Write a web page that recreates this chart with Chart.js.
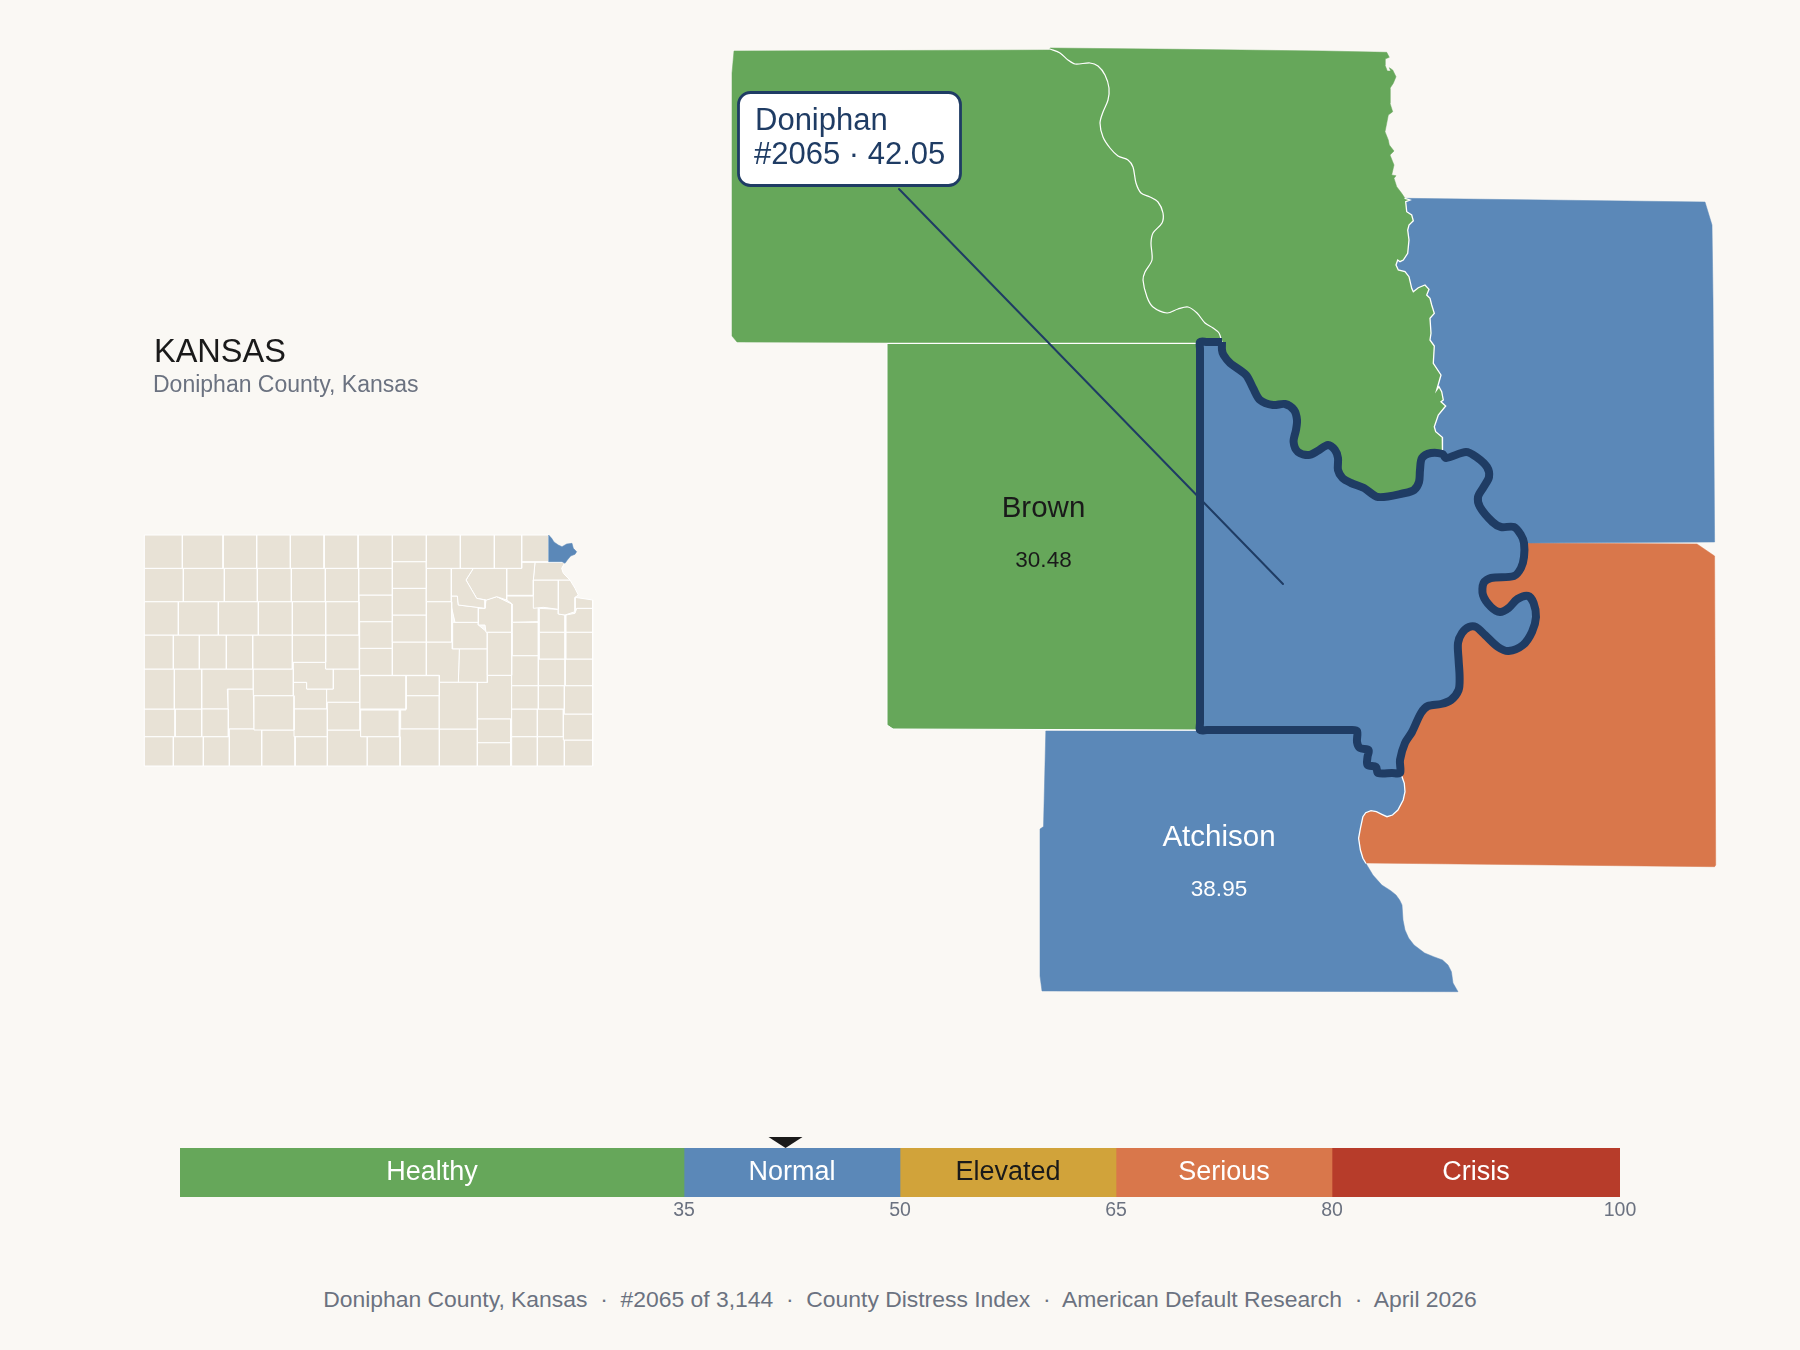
<!DOCTYPE html>
<html>
<head>
<meta charset="utf-8">
<title>Doniphan County, Kansas</title>
<script src="https://cdn.jsdelivr.net/npm/chart.js@4/dist/chart.umd.js"></script>
<style>
    html, body { margin: 0; padding: 0; background: #faf8f4; }
    body { position: relative; width: 1800px; height: 1350px; overflow: hidden; font-family: "Liberation Sans", sans-serif; }
    canvas { position: absolute; }
    .texto { position: absolute; line-height: 1; white-space: pre; }
    #titulo { left: 154px; top: 335px; font-size: 32.5px; color: #1a1a1a; }
    #subtitulo { left: 153px; top: 372.5px; font-size: 23px; color: #6b7280; }
    #rodape { left: 0; width: 1800px; top: 1287.5px; text-align: center; font-size: 22.9px; color: #6b7280; }
</style>
</head>
<body>
<canvas id="mapa" width="1800" height="1100" style="left:0;top:0"></canvas>
<canvas id="kansas" width="480" height="260" style="left:130px;top:520px"></canvas>
<canvas id="escala" width="1800" height="130" style="left:0;top:1130px"></canvas>
<div class="texto" id="titulo">KANSAS</div>
<div class="texto" id="subtitulo">Doniphan County, Kansas</div>
<div class="texto" id="rodape">Doniphan County, Kansas  ·  #2065 of 3,144  ·  County Distress Index  ·  American Default Research  ·  April 2026</div>

<script>
// index bands
const bandLabels = ['Healthy', 'Normal', 'Elevated', 'Serious', 'Crisis'];
const bandWidths = [35, 15, 15, 15, 20];
const bandColors = ['#66a75a', '#5b88b8', '#d1a33a', '#d9774b', '#b73c2a'];
const bandText = ['#ffffff', '#ffffff', '#1a1a1a', '#ffffff', '#ffffff'];
const bandTicks = [35, 50, 65, 80, 100];
const score = 42.05;

// county labels on the map
const labelNames = ['Brown', 'Atchison'];
const labelValues = ['30.48', '38.95'];
const labelColors = ['#1a1a1a', '#ffffff'];
const labelAnchors = [[1043.5, 516.5], [1219, 846]];
const calloutLines = ['Doniphan', '#2065 · 42.05'];

// county outlines, map units
const riverWest = [[1050,49],[1060,53],[1068,60],[1075,64],[1090,63],[1098,66],[1105,75],[1109,88],[1108,100],[1103,112],[1100,123],[1103,137],[1110,148],[1118,156],[1128,160],[1133,167],[1136,183],[1141,193],[1150,197],[1158,202],[1163,213],[1162,223],[1153,233],[1151,243],[1152,260],[1145,272],[1143,280],[1147,297],[1153,307],[1167,313],[1178,309],[1188,307],[1197,313],[1205,323],[1213,328],[1219,333],[1222,342]];
const riverEastTop = [[1386.7,52.3],[1389.3,57.3],[1385,59],[1385,65],[1387.3,71],[1390.7,71],[1389.3,67.7],[1392.7,70],[1396,76.7],[1393.3,83.3],[1390,88.3],[1390,103.3],[1392.7,111.7],[1388.3,115],[1386.7,123.3],[1385,131.7],[1388.3,140],[1389.3,145],[1394,151],[1390,155],[1394,165],[1391.7,175],[1396,175.7],[1394,178.3],[1396.7,186.7],[1401.7,193.3]];
const stateLine = [[1405,198.3],[1410,200],[1405.7,201.7],[1406.7,211.7],[1411.7,215],[1413.3,220.7],[1409,225],[1407.7,230],[1409,240],[1407.7,253.3],[1403.3,260],[1400,261.7],[1397.7,260],[1396,265],[1398.3,270],[1405,271.7],[1409,276.7],[1411.7,288.3],[1413.3,291.7],[1418.3,287.7],[1425,285],[1429,289.3],[1426.7,295],[1430,298.3],[1431.7,305],[1434.3,313.3],[1430,318.3],[1431,333.3],[1430,340],[1434.3,346],[1433.3,363.3],[1441,375],[1436.7,390],[1439,386.7],[1441.7,391.7],[1443.3,400],[1441,401.7],[1445.7,406],[1438.3,415],[1434.3,426.7],[1435.7,431.7],[1442.3,437.3],[1442.5,454]];
const doniphanNorth = [[1222,342],[1222,350],[1223.6,355],[1230,363],[1246,375],[1253,388],[1260,400],[1273,405],[1285,404],[1294,410],[1297,420],[1296,430],[1293.6,442],[1298,452],[1308.6,455],[1317.5,451],[1328,445],[1335,450],[1338,458],[1338,470],[1342.5,478],[1351,483],[1364,488],[1378,497],[1405,493],[1414,490],[1419,482],[1420,470],[1422,458],[1431,453],[1442.5,454]];
const doniphanEastTop = [[1446,458],[1466,452],[1476.4,457],[1487,467],[1489,477],[1483.6,487],[1478,497],[1480,507],[1492.5,522],[1501,527],[1514,527],[1521,535],[1524,543]];
const doniphanEastLow = [[1524,557],[1521,568],[1514,576],[1491,578],[1483.6,583],[1483,595],[1491,607],[1500,612],[1508.6,608],[1517.5,599],[1528,596],[1533.6,603],[1536,617],[1532,632],[1523,645],[1508.6,651],[1498,647],[1485,635],[1476,627],[1469,627],[1462,633],[1458,643],[1458.6,660],[1459.6,677],[1458.6,690],[1451,700],[1441,704],[1428,706],[1421,713],[1412,732],[1405,743],[1400,760],[1400,773]];
const doniphanSouth = [[1392,773],[1378,773],[1376,767],[1367.5,765],[1367.5,757],[1368.6,750],[1360,748],[1357,742],[1357,731],[1350,730],[1280,730],[1207,730],[1200,730]];
const doniphanWest = [[1200,723],[1200,530],[1200,349],[1200,342],[1207,342],[1216,342]];
const riverKaw = [[1401.4,775],[1404.3,783.3],[1405,791.7],[1403.2,800],[1397.9,810],[1392.5,815],[1387,816.7],[1381.8,814.3],[1376.4,811.7],[1371,810.7],[1365.7,812.7],[1362.9,816.7],[1360.4,828.3],[1358.6,838.3],[1360.4,850],[1362.9,858.3],[1365.7,863]];
const atchisonCoast = [[1372.9,875],[1381.8,885],[1390.7,890.7],[1396,895],[1399.6,900],[1402,905],[1403,920],[1405,930],[1408.6,938],[1414,945],[1424.6,953],[1433.6,956.7],[1442.5,960],[1448,965],[1451.4,971.7],[1453,983],[1458,991.7]];

const topWest = [[734,51],[1050,50]].concat(riverWest, [[1222,342.5],[887,342.5],[737,342],[732,336],[732,73]]);
const topEast = [[1050,48],[1180,49.3],[1323,51]].concat(riverEastTop, stateLine, doniphanNorth.slice().reverse(), riverWest.slice().reverse());
const brown = [[887,343.5],[1200,343.5],[1200,730],[893,729],[887,725]];
const holt = stateLine.concat(doniphanEastTop, [[1528,543],[1714.6,542],[1713,300],[1712,225],[1705,202]]);
const platte = [[1528,543],[1697,544],[1714.6,556],[1715.7,865],[1714.6,866.7],[1365.7,863]].concat(riverKaw.slice().reverse(), doniphanEastLow.slice().reverse());
const atchison = [[1045.8,731],[1200,731]].concat(doniphanSouth.slice().reverse(), riverKaw, atchisonCoast, [[1042,991],[1040,976],[1040,829],[1043.5,826.6]]);
const doniphan = doniphanNorth.concat(doniphanEastTop, doniphanEastLow, doniphanSouth, doniphanWest);
const leaderLine = [[899,189],[1283,584]];

// inset state map, rectangles x0 y0 x1 y1
const kansasRects = [
    [43,45,157,145],[157,45,279,145],[279,45,380,145],[380,45,481,145],[481,45,582,145],[582,45,684,145],[684,45,787,145],[787,45,889,125],[889,45,991,145],[991,45,1093,145],[1093,45,1175,145],[1175,45,1256,125],
    [43,145,160,245],[160,145,283,245],[283,145,382,245],[382,145,484,245],[484,145,586,245],[586,145,686,245],[686,145,787,225],[787,125,889,205],[889,145,964,245],
    [43,245,145,345],[145,245,265,345],[265,245,385,345],[385,245,487,345],[487,245,587,345],[587,245,687,345],[687,225,787,305],[787,205,889,285],[787,285,889,366],[889,245,965,366],
    [43,345,130,447],[130,345,208,447],[208,345,289,447],[289,345,368,447],[368,345,487,447],[487,345,587,427],[587,345,688,447],[689,305,787,385],[689,385,787,466],[787,366,889,466],[1072,337,1145,466],[1147,307,1225,407],[1228,337,1305,417],[1308,337,1388,417],
    [43,447,133,567],[133,447,215,567],[370,447,490,527],[690,467,828,567],[828,467,928,527],[928,487,1042,627],[1145,407,1225,497],[1225,417,1305,497],[1305,417,1388,497],
    [372,527,492,630],[492,567,592,650],[592,547,690,630],[692,570,808,650],[1145,497,1225,567],[1225,497,1303,567],[1303,497,1388,582],
    [43,567,135,650],[135,567,215,650],[215,567,295,650],[43,650,130,738],[130,650,220,738],[220,650,298,738],[298,627,395,738],[395,630,495,738],[495,650,592,738],[712,650,810,738],[810,627,928,738],[928,627,1042,738],[1042,597,1142,668],[1042,668,1142,738],[1145,567,1222,650],[1222,567,1300,650],[1300,582,1388,660],[1145,650,1222,738],[1222,650,1303,738],[1303,660,1388,738]
];
const kansasPolys = [
    [[964,145],[1030,145],[1008,180],[1040,235],[1065,240],[1065,265],[985,255],[982,228],[964,228]],
    [[1030,145],[1130,145],[1130,240],[1100,230],[1070,240],[1040,235],[1008,180]],
    [[1130,145],[1175,145],[1175,127],[1215,127],[1210,180],[1210,226],[1130,226]],
    [[1215,127],[1305,127],[1295,145],[1300,160],[1320,180],[1210,180]],
    [[1210,180],[1285,180],[1285,268],[1240,262],[1210,265]],
    [[1285,180],[1320,180],[1335,205],[1345,225],[1335,232],[1335,275],[1305,285],[1285,282]],
    [[1335,232],[1388,240],[1388,265],[1340,265],[1335,275]],
    [[962,228],[982,228],[985,255],[1045,262],[1045,307],[975,307],[962,250]],
    [[1045,265],[1065,265],[1068,240],[1100,230],[1145,252],[1145,337],[1068,337],[1065,315],[1045,315]],
    [[1130,228],[1225,228],[1225,305],[1147,307],[1147,252],[1130,240]],
    [[1228,265],[1285,268],[1285,282],[1305,285],[1305,337],[1228,337]],
    [[1340,265],[1388,265],[1388,337],[1308,337],[1308,285],[1335,280]],
    [[889,366],[967,366],[967,387],[988,387],[985,487],[928,487],[928,466],[889,466]],
    [[988,387],[1072,387],[1072,487],[985,487]],
    [[968,307],[1045,307],[1045,315],[1072,337],[1072,387],[968,387]],
    [[215,447],[370,447],[370,507],[292,507],[294,567],[215,567]],
    [[490,427],[587,427],[587,447],[610,447],[610,507],[530,507],[530,487],[490,487]],
    [[610,447],[689,447],[689,547],[590,547],[590,507],[610,507]],
    [[828,527],[928,527],[928,627],[812,627],[812,570],[828,570]],
    [[1042,487],[1072,487],[1072,466],[1145,466],[1145,597],[1042,597]],
    [[294,507],[370,507],[372,627],[296,627]],
    [[490,487],[530,487],[530,507],[590,507],[590,567],[490,567]],
    [[592,630],[692,630],[692,650],[712,650],[712,738],[592,738]]
];
const kansasDoniphan = [[1256,45],[1265,55],[1272,66],[1285,75],[1296,80],[1310,72],[1326,70],[1330,85],[1340,95],[1335,103],[1322,108],[1312,120],[1305,130],[1296,125],[1256,125]];

Chart.defaults.font.family = '"Liberation Sans", sans-serif';
Chart.defaults.animation = false;
Chart.defaults.responsive = false;
Chart.defaults.plugins.legend.display = false;
Chart.defaults.plugins.tooltip.enabled = false;

function shape(points, fillColor, lineColor, lineWidth, tension)
{
    let closed = points.concat([points[0]]);
    return {
        data: closed.map(p => ({ x: p[0], y: p[1] })),
        showLine: true,
        fill: fillColor ? 'shape' : false,
        backgroundColor: fillColor || 'transparent',
        borderColor: lineColor,
        borderWidth: lineWidth,
        borderJoinStyle: 'round',
        pointRadius: 0,
        tension: tension || 0
    };
}

function line(points, lineColor, lineWidth, tension)
{
    return {
        data: points.map(p => ({ x: p[0], y: p[1] })),
        showLine: true,
        fill: false,
        borderColor: lineColor,
        borderWidth: lineWidth,
        borderCapStyle: 'round',
        pointRadius: 0,
        tension: tension || 0
    };
}

function hiddenScales(xMax, yMax)
{
    return {
        x: { type: 'linear', display: false, min: 0, max: xMax },
        y: { type: 'linear', display: false, min: 0, max: yMax, reverse: true }
    };
}

// county names, values and the callout box
const mapText = {
    id: 'mapText',
    afterDatasetsDraw(chart) {
        let ctx = chart.ctx, sx = chart.scales.x, sy = chart.scales.y;
        ctx.save();
        ctx.textAlign = 'center';
        labelNames.forEach((name, i) => {
            let px = sx.getPixelForValue(labelAnchors[i][0]);
            let py = sy.getPixelForValue(labelAnchors[i][1]);
            ctx.fillStyle = labelColors[i];
            ctx.font = '29.5px "Liberation Sans"';
            ctx.fillText(name, px, py);
            ctx.font = '22.5px "Liberation Sans"';
            ctx.fillText(labelValues[i], px, py + 50);
        });

        ctx.beginPath();
        ctx.roundRect(738.5, 92.5, 222, 93, 12);
        ctx.fillStyle = '#ffffff';
        ctx.fill();
        ctx.strokeStyle = '#1f3c64';
        ctx.lineWidth = 2.8;
        ctx.stroke();
        ctx.fillStyle = '#1f3c64';
        ctx.textAlign = 'left';
        ctx.font = '31px "Liberation Sans"';
        ctx.fillText(calloutLines[0], 755, 130);
        ctx.fillText(calloutLines[1], 754, 164);
        ctx.restore();
    }
};

let mapDatasets = [
    line(leaderLine, '#1f3c64', 2),
    shape(doniphan, bandColors[1], '#1f3c64', 8, 0.3),
    line(riverWest, '#ffffff', 1.2, 0.3),
    line(stateLine, '#ffffff', 1.3),
    line(riverKaw, '#ffffff', 1.3),
    shape(brown, bandColors[0], '#ffffff', 1),
    shape(topEast, bandColors[0], bandColors[0], 0.5),
    shape(topWest, bandColors[0], bandColors[0], 0.5),
    shape(holt, bandColors[1], bandColors[1], 0.5),
    shape(atchison, bandColors[1], bandColors[1], 0.5),
    shape(platte, bandColors[3], bandColors[3], 0.5)
];

new Chart(document.getElementById('mapa'), {
    type: 'scatter',
    data: { datasets: mapDatasets },
    options: { scales: hiddenScales(1800, 1100) },
    plugins: [mapText]
});

let insetDatasets = [shape(kansasDoniphan, bandColors[1], bandColors[1], 0.5)];
kansasRects.forEach(r => {
    insetDatasets.push(shape([[r[0], r[1]], [r[2], r[1]], [r[2], r[3]], [r[0], r[3]]], '#e8e2d6', '#ffffff', 1));
});
kansasPolys.forEach(p => {
    insetDatasets.push(shape(p, '#e8e2d6', '#ffffff', 1));
});

new Chart(document.getElementById('kansas'), {
    type: 'scatter',
    data: { datasets: insetDatasets },
    options: { scales: hiddenScales(1440, 780) }
});

// band names and the score marker above the bar
const bandNames = {
    id: 'bandNames',
    afterDatasetsDraw(chart) {
        let ctx = chart.ctx, sx = chart.scales.x, area = chart.chartArea;
        ctx.save();
        ctx.textAlign = 'center';
        ctx.font = '27px "Liberation Sans"';
        let start = 0;
        bandLabels.forEach((name, i) => {
            ctx.fillStyle = bandText[i];
            ctx.fillText(name, sx.getPixelForValue(start + bandWidths[i] / 2), area.top + 32);
            start += bandWidths[i];
        });
        let mx = sx.getPixelForValue(score);
        ctx.beginPath();
        ctx.moveTo(mx - 17, area.top - 11);
        ctx.lineTo(mx + 17, area.top - 11);
        ctx.lineTo(mx, area.top);
        ctx.closePath();
        ctx.fillStyle = '#1a1a1a';
        ctx.fill();
        ctx.restore();
    }
};

new Chart(document.getElementById('escala'), {
    type: 'bar',
    data: {
        labels: ['Index'],
        datasets: bandLabels.map((name, i) => ({
            label: name,
            data: [bandWidths[i]],
            backgroundColor: bandColors[i],
            borderWidth: 0,
            barPercentage: 1,
            categoryPercentage: 1
        }))
    },
    options: {
        indexAxis: 'y',
        layout: { padding: { left: 180, right: 180, top: 18, bottom: 0 } },
        scales: {
            x: {
                type: 'linear',
                stacked: true,
                min: 0,
                max: 100,
                grid: { display: false, drawTicks: false },
                border: { display: false },
                afterBuildTicks: axis => { axis.ticks = bandTicks.map(v => ({ value: v })); },
                afterFit: axis => { axis.height = 63; },
                ticks: {
                    autoSkip: false,
                    maxRotation: 0,
                    padding: 2,
                    color: '#6b7280',
                    font: { size: 19.5 }
                }
            },
            y: { display: false, stacked: true }
        }
    },
    plugins: [bandNames]
});
</script>
</body>
</html>
